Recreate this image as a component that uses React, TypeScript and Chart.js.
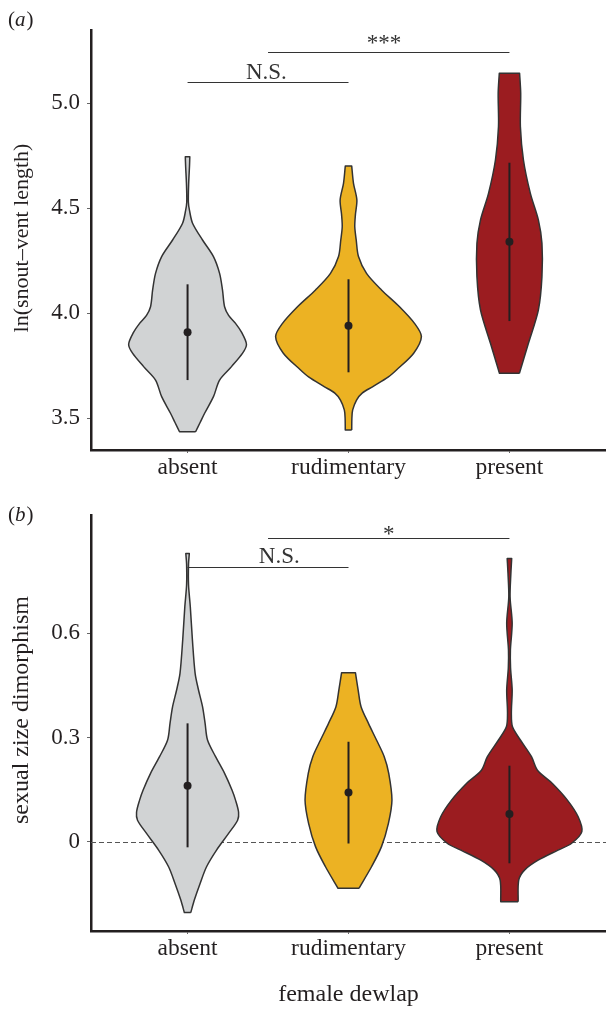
import React, { useEffect, useRef } from 'react';
import { Chart, registerables } from 'chart.js';

Chart.register(...registerables);

const FONT = '"Liberation Serif", "Times New Roman", serif';
const INK = '#231f20';
const OUTLINE = '#333333';

const categories = ['absent', 'rudimentary', 'present'];
const fills = ['#d1d3d4', '#ecb223', '#9b1c20'];

// ---------- Panel (a): ln(snout–vent length) ----------
const lengthTicks = [3.5, 4.0, 4.5, 5.0];
const lengthTickLabels = ['3.5', '4.0', '4.5', '5.0'];
const lengthRange = [3.349, 5.349];

const absentLenY = [3.436, 3.48, 3.524, 3.603, 3.682, 3.746, 3.81, 3.852, 3.91, 3.952, 3.99, 4.031, 4.111, 4.19, 4.27, 4.349, 4.429, 4.49, 4.53, 4.62, 4.7, 4.746];
const absentLenW = [0.05, 0.078, 0.106, 0.161, 0.199, 0.273, 0.342, 0.366, 0.335, 0.298, 0.255, 0.23, 0.217, 0.199, 0.161, 0.093, 0.031, 0.012, 0.005, 0.007, 0.012, 0.014];

const rudLenY = [3.444, 3.5, 3.54, 3.587, 3.62, 3.65, 3.697, 3.73, 3.81, 3.889, 3.952, 4.031, 4.111, 4.19, 4.27, 4.349, 4.412, 4.47, 4.54, 4.619, 4.701];
const rudLenW = [0.02, 0.021, 0.026, 0.05, 0.085, 0.149, 0.248, 0.298, 0.405, 0.453, 0.41, 0.317, 0.205, 0.112, 0.062, 0.048, 0.039, 0.043, 0.052, 0.031, 0.02];

const presLenY = [3.714, 3.857, 4.016, 4.174, 4.333, 4.444, 4.571, 4.73, 4.889, 5.048, 5.143];
const presLenW = [0.062, 0.118, 0.18, 0.202, 0.202, 0.18, 0.13, 0.087, 0.068, 0.07, 0.063];

const lengthMean = [3.91, 3.941, 4.341];
const lengthLow = [3.682, 3.719, 3.963];
const lengthHigh = [4.138, 4.162, 4.717];

const lengthBrackets = [
  { from: 1, to: 2, y: 5.103, label: 'N.S.', labelX: 1.49, dy: -4 },
  { from: 1.5, to: 3, y: 5.243, label: '***', labelX: 2.22, dy: -3 },
];

// ---------- Panel (b): sexual size dimorphism ----------
const sizeTicks = [0, 0.3, 0.6];
const sizeTickLabels = ['0', '0.3', '0.6'];
const sizeRange = [-0.257, 0.941];
const zeroLevel = 0;

const absentSzY = [-0.204, -0.168, -0.12, -0.072, -0.024, 0.024, 0.062, 0.085, 0.12, 0.149, 0.197, 0.245, 0.293, 0.341, 0.389, 0.437, 0.485, 0.582, 0.677, 0.74, 0.8, 0.83];
const absentSzW = [0.02, 0.042, 0.078, 0.118, 0.18, 0.255, 0.311, 0.317, 0.298, 0.276, 0.23, 0.174, 0.124, 0.109, 0.093, 0.068, 0.047, 0.03, 0.017, 0.006, 0.006, 0.011];

const rudSzY = [-0.134, -0.072, -0.014, 0.053, 0.12, 0.197, 0.245, 0.293, 0.341, 0.389, 0.437, 0.487];
const rudSzW = [0.065, 0.143, 0.205, 0.248, 0.27, 0.25, 0.222, 0.174, 0.124, 0.078, 0.06, 0.043];

const presSzY = [-0.173, -0.11, -0.081, -0.053, -0.024, -0.005, 0.029, 0.072, 0.12, 0.168, 0.206, 0.245, 0.293, 0.331, 0.37, 0.437, 0.5, 0.552, 0.629, 0.705, 0.773, 0.816];
const presSzW = [0.054, 0.058, 0.095, 0.178, 0.302, 0.385, 0.45, 0.427, 0.36, 0.267, 0.174, 0.137, 0.068, 0.019, 0.012, 0.017, 0.007, 0.006, 0.017, 0.004, 0.009, 0.014];

const sizeMean = [0.161, 0.142, 0.08];
const sizeLow = [-0.016, -0.005, -0.062];
const sizeHigh = [0.341, 0.288, 0.219];

const sizeBrackets = [
  { from: 1, to: 2, y: 0.792, label: 'N.S.', labelX: 1.57, dy: -5 },
  { from: 1.5, to: 3, y: 0.874, label: '*', labelX: 2.25, dy: 2 },
];

// ---------- helpers ----------
function buildViolin(center: number, ys: number[], ws: number[]) {
  const R = ys.map((y, i) => ({ x: center + ws[i], y }));
  const L = ys.map((y, i) => ({ x: center - ws[i], y })).reverse();
  const n = R.length - 1;
  return [R[0], ...R, R[n], L[0], ...L, L[n], R[0]];
}

function bracketPlugin(brackets: any[]) {
  return {
    id: 'brackets',
    afterDatasetsDraw(chart: any) {
      const { ctx, scales } = chart;
      const x = scales.x;
      const y = scales.y;
      ctx.save();
      ctx.strokeStyle = OUTLINE;
      ctx.lineWidth = 1.2;
      ctx.fillStyle = '#333';
      ctx.font = `23px ${FONT}`;
      ctx.textAlign = 'center';
      ctx.textBaseline = 'alphabetic';
      for (const b of brackets) {
        const py = Math.round(y.getPixelForValue(b.y)) + 0.5;
        ctx.beginPath();
        ctx.moveTo(x.getPixelForValue(b.from), py);
        ctx.lineTo(x.getPixelForValue(b.to), py);
        ctx.stroke();
        ctx.fillText(b.label, x.getPixelForValue(b.labelX), py + b.dy);
      }
      ctx.restore();
    },
  };
}

function panelLabelPlugin(letter: string, baseline: number) {
  return {
    id: 'panelLabel',
    afterDraw(chart: any) {
      const ctx = chart.ctx;
      ctx.save();
      ctx.fillStyle = INK;
      ctx.textAlign = 'left';
      ctx.textBaseline = 'alphabetic';
      let x = 8;
      ctx.font = `21px ${FONT}`;
      ctx.fillText('(', x, baseline);
      x += ctx.measureText('(').width;
      ctx.font = `italic 21px ${FONT}`;
      ctx.fillText(letter, x, baseline);
      x += ctx.measureText(letter).width + 1;
      ctx.font = `21px ${FONT}`;
      ctx.fillText(')', x, baseline);
      ctx.restore();
    },
  };
}

// y-axis title, centred on the plot area with an optional vertical shift
function yTitlePlugin(text: string, size: number, centerX: number, shift: number) {
  return {
    id: 'yTitle',
    afterDraw(chart: any) {
      const { ctx, chartArea } = chart;
      ctx.save();
      ctx.fillStyle = INK;
      ctx.font = `${size}px ${FONT}`;
      ctx.textAlign = 'center';
      ctx.textBaseline = 'middle';
      ctx.translate(centerX, (chartArea.top + chartArea.bottom) / 2 + shift);
      ctx.rotate(-Math.PI / 2);
      ctx.fillText(text, 0, 0);
      ctx.restore();
    },
  };
}

const zeroLinePlugin = {
  id: 'zeroLine',
  beforeDatasetsDraw(chart: any) {
    const { ctx, chartArea, scales } = chart;
    const py = Math.round(scales.y.getPixelForValue(zeroLevel)) + 0.5;
    ctx.save();
    ctx.strokeStyle = '#555';
    ctx.lineWidth = 1;
    ctx.setLineDash([5, 3]);
    ctx.beginPath();
    ctx.moveTo(chartArea.left, py);
    ctx.lineTo(chartArea.right, py);
    ctx.stroke();
    ctx.restore();
  },
};

interface Panel {
  violins: { y: number[]; w: number[] }[];
  mean: number[];
  low: number[];
  high: number[];
  range: number[];
  ticks: number[];
  tickLabels: string[];
  xTitle: string | null;
  padTop: number;
  xHeight: number;
  plugins: any[];
}

function makeConfig(p: Panel): any {
  const datasets: any[] = [];
  p.violins.forEach((v, i) => {
    datasets.push({
      data: buildViolin(i + 1, v.y, v.w),
      borderColor: OUTLINE,
      borderWidth: 1.5,
      backgroundColor: fills[i],
      fill: 'shape',
      pointRadius: 0,
      tension: 0.3,
      borderJoinStyle: 'round',
      order: 3,
    });
  });
  p.low.forEach((lo, i) => {
    datasets.push({
      data: [
        { x: i + 1, y: lo },
        { x: i + 1, y: p.high[i] },
      ],
      borderColor: INK,
      borderWidth: 2,
      pointRadius: 0,
      fill: false,
      order: 2,
    });
  });
  datasets.push({
    data: p.mean.map((m, i) => ({ x: i + 1, y: m })),
    showLine: false,
    pointRadius: 4,
    pointBackgroundColor: INK,
    pointBorderColor: INK,
    pointBorderWidth: 0,
    order: 1,
  });

  const grid = {
    display: true,
    drawOnChartArea: false,
    drawTicks: true,
    tickLength: 4,
    tickColor: '#666',
    tickWidth: 1,
  };
  const border = { display: true, color: INK, width: 2.5 };

  return {
    type: 'line',
    data: { datasets },
    options: {
      animation: false,
      responsive: false,
      maintainAspectRatio: false,
      events: [],
      layout: { autoPadding: false, padding: { top: p.padTop, left: 0, right: 0, bottom: 0 } },
      plugins: { legend: { display: false }, tooltip: { enabled: false }, title: { display: false } },
      scales: {
        x: {
          type: 'linear',
          min: 0.4,
          max: 3.6,
          grid: { ...grid, tickLength: 3 },
          border,
          ticks: {
            color: INK,
            font: { family: FONT, size: 23.5 },
            padding: 1,
            maxRotation: 0,
            autoSkip: false,
            callback: (_v: any, idx: number) => categories[idx],
          },
          afterBuildTicks: (s: any) => {
            s.ticks = categories.map((_, i) => ({ value: i + 1 }));
          },
          afterFit: (s: any) => {
            s.height = p.xHeight;
            s.paddingLeft = 0;
            s.paddingRight = 0;
          },
          title: {
            display: !!p.xTitle,
            text: p.xTitle || '',
            color: INK,
            font: { family: FONT, size: 24 },
            padding: { top: 0, bottom: 0 },
          },
        },
        y: {
          type: 'linear',
          min: p.range[0],
          max: p.range[1],
          grid,
          border,
          ticks: {
            color: INK,
            font: { family: FONT, size: 23 },
            padding: 7,
            autoSkip: false,
            callback: (_v: any, idx: number) => p.tickLabels[idx],
          },
          afterBuildTicks: (s: any) => {
            s.ticks = p.ticks.map((value) => ({ value }));
          },
          afterFit: (s: any) => {
            s.width = 91;
            s.paddingTop = 0;
            s.paddingBottom = 0;
          },
        },
      },
    },
    plugins: p.plugins,
  };
}

export default function App() {
  const refA = useRef<HTMLCanvasElement>(null);
  const refB = useRef<HTMLCanvasElement>(null);

  useEffect(() => {
    const a = new Chart(
      refA.current!,
      makeConfig({
        violins: [
          { y: absentLenY, w: absentLenW },
          { y: rudLenY, w: rudLenW },
          { y: presLenY, w: presLenW },
        ],
        mean: lengthMean,
        low: lengthLow,
        high: lengthHigh,
        range: lengthRange,
        ticks: lengthTicks,
        tickLabels: lengthTickLabels,
        xTitle: null,
        padTop: 30,
        xHeight: 40,
        plugins: [
          bracketPlugin(lengthBrackets),
          panelLabelPlugin('a', 26),
          yTitlePlugin('ln(snout\u2013vent length)', 22, 22, -2),
        ],
      })
    );
    const b = new Chart(
      refB.current!,
      makeConfig({
        violins: [
          { y: absentSzY, w: absentSzW },
          { y: rudSzY, w: rudSzW },
          { y: presSzY, w: presSzW },
        ],
        mean: sizeMean,
        low: sizeLow,
        high: sizeHigh,
        range: sizeRange,
        ticks: sizeTicks,
        tickLabels: sizeTickLabels,
        xTitle: 'female dewlap',
        padTop: 25,
        xHeight: 78,
        plugins: [
          zeroLinePlugin,
          bracketPlugin(sizeBrackets),
          panelLabelPlugin('b', 31),
          yTitlePlugin('sexual zize dimorphism', 24, 22, -13),
        ],
      })
    );
    return () => {
      a.destroy();
      b.destroy();
    };
  }, []);

  return (
    <div style={{ position: 'absolute', left: 0, top: 0, width: 606, height: 1009, background: '#fff' }}>
      <canvas ref={refA} width={606} height={490} style={{ display: 'block', width: 606, height: 490 }} />
      <canvas ref={refB} width={606} height={519} style={{ display: 'block', width: 606, height: 519 }} />
    </div>
  );
}
